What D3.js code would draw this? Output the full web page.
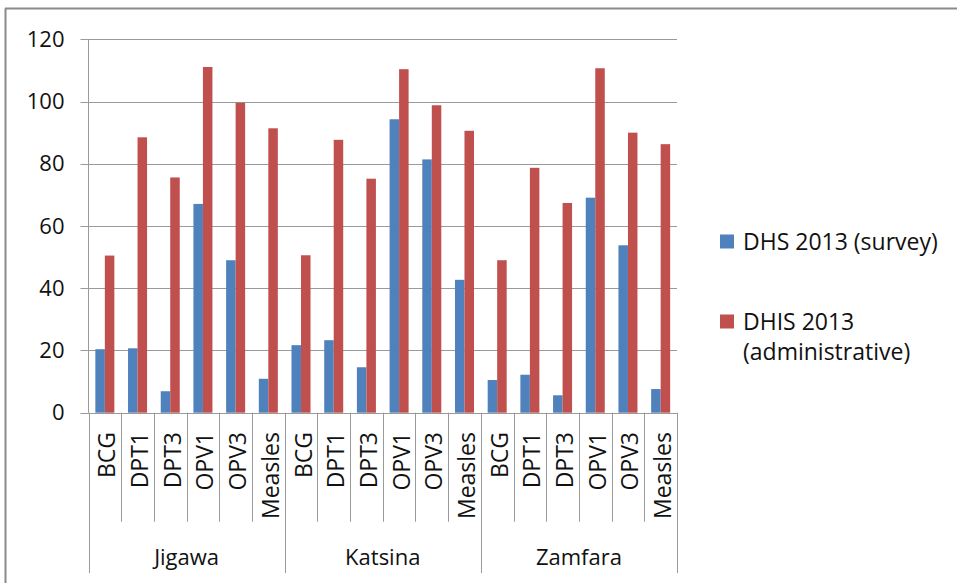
<!DOCTYPE html>
<html>
<head>
<meta charset="utf-8">
<script src="https://cdn.jsdelivr.net/npm/d3@7"></script>
<style>
  html, body { margin: 0; padding: 0; background: #fff; }
  svg { display: block; font-family: "Open Sans", sans-serif; }
</style>
</head>
<body>
<svg id="chart" width="957" height="583"></svg>
<script>
// ---- data ----
const groups = ["Jigawa", "Katsina", "Zamfara"];
const vaccines = ["BCG", "DPT1", "DPT3", "OPV1", "OPV3", "Measles"];
const seriesNames = ["DHS 2013 (survey)", "DHIS 2013 (administrative)"];
const legendLines = [["DHS 2013 (survey)"], ["DHIS 2013", "(administrative)"]];
const surveyValues = [
  20.4, 20.7, 6.9, 67.1, 49.0, 10.9,   // Jigawa
  21.7, 23.3, 14.6, 94.3, 81.4, 42.7,  // Katsina
  10.5, 12.2, 5.6, 69.1, 53.8, 7.6     // Zamfara
];
const adminValues = [
  50.5, 88.5, 75.6, 111.1, 99.6, 91.4,
  50.6, 87.7, 75.2, 110.4, 98.8, 90.6,
  49.0, 78.7, 67.4, 110.7, 90.0, 86.3
];
const yTicks = [0, 20, 40, 60, 80, 100, 120];
const colors = ["#4F81BD", "#C0504D"];

// ---- layout ----
const svg = d3.select("#chart");
const plot = { left: 88.5, right: 677, top: 39.3, bottom: 412.7 };
const gridColor = "#9a9a9a";
const textColor = "#111111";

const cats = [];
groups.forEach((g, gi) => vaccines.forEach((v, vi) => {
  cats.push({ key: g + "|" + v, group: g, vaccine: v, idx: gi * vaccines.length + vi });
}));

const x = d3.scaleBand().domain(cats.map(c => c.key)).range([plot.left, plot.right]).padding(0);
const xg = d3.scaleBand().domain(groups).range([plot.left, plot.right]).padding(0);
const y = d3.scaleLinear().domain([0, 120]).range([plot.bottom, plot.top]);
const xs = d3.scaleBand().domain(seriesNames).range([0, x.bandwidth()]).paddingOuter(0.72).paddingInner(0);

// outer frame (left + top)
svg.append("line").attr("x1", 5.5).attr("x2", 5.5).attr("y1", 8.5).attr("y2", 583)
  .attr("stroke", "#8a8a8a").attr("stroke-width", 2);
svg.append("line").attr("x1", 5).attr("x2", 957).attr("y1", 8.5).attr("y2", 8.5)
  .attr("stroke", "#8a8a8a").attr("stroke-width", 2);

// gridlines + ticks
svg.append("g").selectAll("line").data(yTicks).join("line")
  .attr("x1", plot.left - 8).attr("x2", plot.right)
  .attr("y1", d => Math.round(y(d)) + 0.5).attr("y2", d => Math.round(y(d)) + 0.5)
  .attr("stroke", gridColor).attr("stroke-width", 1);

// y axis via d3 axis (labels only)
const yAxis = svg.append("g").attr("transform", `translate(${plot.left - 8},0)`)
  .call(d3.axisLeft(y).tickValues(yTicks).tickSize(0).tickPadding(16));
yAxis.select(".domain").remove();
yAxis.selectAll("text").attr("font-size", 22).attr("fill", textColor)
  .attr("font-family", "'Open Sans', sans-serif");

// bars
const barData = [];
cats.forEach(c => {
  barData.push({ cat: c, s: seriesNames[0], v: surveyValues[c.idx], ci: 0 });
  barData.push({ cat: c, s: seriesNames[1], v: adminValues[c.idx], ci: 1 });
});
svg.append("g").selectAll("rect").data(barData).join("rect")
  .attr("x", d => x(d.cat.key) + xs(d.s))
  .attr("width", xs.bandwidth())
  .attr("y", d => y(d.v))
  .attr("height", d => y(0) - y(d.v))
  .attr("fill", d => colors[d.ci]);

// y axis line and category separators
const sepLen = 109, groupSepBottom = 573;
const boundaries = cats.map(c => x(c.key)).concat([plot.right]);
svg.append("line").attr("x1", plot.left).attr("x2", plot.left)
  .attr("y1", plot.top).attr("y2", plot.bottom).attr("stroke", gridColor);
svg.append("g").selectAll("line").data(boundaries).join("line")
  .attr("x1", d => Math.round(d) + 0.5).attr("x2", d => Math.round(d) + 0.5)
  .attr("y1", plot.bottom)
  .attr("y2", (d, i) => (i % vaccines.length === 0) ? groupSepBottom : plot.bottom + sepLen)
  .attr("stroke", gridColor);

// category labels (rotated)
svg.append("g").selectAll("text").data(cats).join("text")
  .attr("transform", d => `translate(${x(d.key) + x.bandwidth() / 2 + 1.5},432) rotate(-90)`)
  .attr("text-anchor", "end")
  .attr("dominant-baseline", "central")
  .attr("font-size", 23).attr("fill", textColor)
  .text(d => d.vaccine);

// group labels
svg.append("g").selectAll("text").data(groups).join("text")
  .attr("x", d => xg(d) + xg.bandwidth() / 2)
  .attr("y", 565)
  .attr("text-anchor", "middle")
  .attr("font-size", 22).attr("fill", textColor)
  .text(d => d);

// legend
const legendY = [241.5, 321.5];
const lg = svg.append("g").selectAll("g").data(seriesNames).join("g");
lg.append("rect")
  .attr("x", 720).attr("y", (d, i) => legendY[i] - 7)
  .attr("width", 14).attr("height", 14)
  .attr("fill", (d, i) => colors[i]);
lg.append("text")
  .attr("x", 743).attr("y", (d, i) => legendY[i] + 8.5)
  .attr("font-size", 23).attr("fill", textColor)
  .selectAll("tspan").data((d, i) => legendLines[i]).join("tspan")
  .attr("x", 743).attr("dy", (t, j) => j === 0 ? 0 : 30)
  .text(t => t);
</script>
</body>
</html>
